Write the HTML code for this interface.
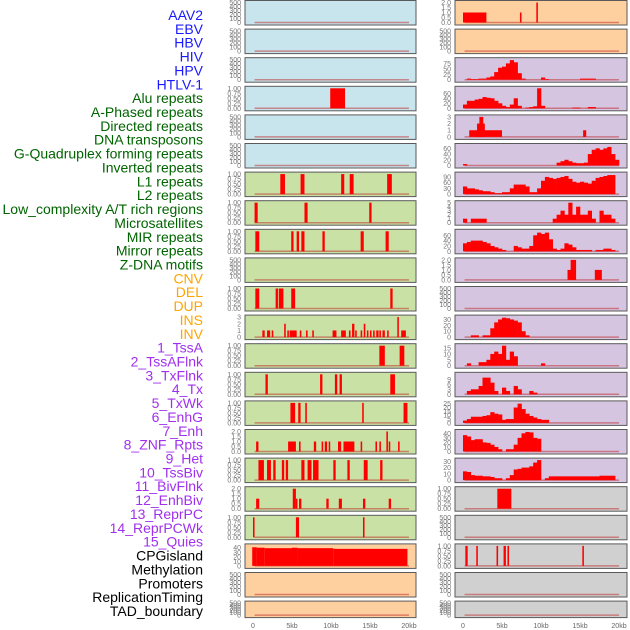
<!DOCTYPE html>
<html><head><meta charset="utf-8"><style>
html,body{margin:0;padding:0;background:#fff;}
svg{display:block;font-family:"Liberation Sans",sans-serif;}
</style></head><body>
<svg id="chart" width="630" height="630" viewBox="0 0 630 630"></svg>
<script>
const labels = ["AAV2","EBV","HBV","HIV","HPV","HTLV-1","Alu repeats","A-Phased repeats","Directed repeats","DNA transposons","G-Quadruplex forming repeats","Inverted repeats","L1 repeats","L2 repeats","Low_complexity A/T rich regions","Microsatellites","MIR repeats","Mirror repeats","Z-DNA motifs","CNV","DEL","DUP","INS","INV","1_TssA","2_TssAFlnk","3_TxFlnk","4_Tx","5_TxWk","6_EnhG","7_Enh","8_ZNF_Rpts","9_Het","10_TssBiv","11_BivFlnk","12_EnhBiv","13_ReprPC","14_ReprPCWk","15_Quies","CPGisland","Methylation","Promoters","ReplicationTiming","TAD_boundary"];
const labelGroups = [6,13,5,15,5];
const groupColors = ["#1a1aff","#006400","#ffa500","#a030ee","#000000"];
const xTicks = [0,5,10,15,20];
const xTickLabels = ["0","5kb","10kb","15kb","20kb"];
const E = ["0","100","200","300","400","500"];
const P = ["0.00","0.25","0.50","0.75","1.00"];
const Q = ["0.0","0.5","1.0","1.5","2.0"];
const leftBg = ["b","b","b","b","b","b","g","g","g","g","g","g","g","g","g","g","g","g","g","o","o","o"];
const leftTicks = [E,E,E,P,E,E,P,P,P,E,P,["0","1","2","3"],P,P,P,Q,P,Q,P,["0","10","20","30","40"],E,E];
const leftMax = [500,500,500,1,500,500,1,1,1,500,1,3,1,1,1,2,1,2,1,44,500,500];
const leftSegs = [
 [],[],[],[[9.9,11.8,1]],[],[],
 [[3.5,4.1,1],[6.1,6.6,1],[11.3,11.7,1],[12.4,12.9,1],[17.2,17.8,1]],
 [[0.2,0.6,1],[6.6,7.0,1],[14.9,15.2,1]],
 [[0.3,0.8,1],[4.9,5.2,1],[5.6,5.9,1],[6.2,6.6,1],[8.9,9.2,1],[13.8,14.2,1],[17.0,17.4,1]],
 [],
 [[0.3,0.8,1],[2.9,3.2,1],[3.3,3.9,1],[4.9,5.4,1],[17.6,17.9,1]],
 [[1.2,1.5,1],[1.8,2.2,1],[2.4,2.6,1],[4.0,4.2,2],[4.4,4.6,1],[4.7,5.6,1],[6.0,6.2,1],[6.8,7.0,1],[7.6,7.8,1],[10.2,10.7,1],[11.3,11.9,1],[12.3,12.5,1],[12.7,13.0,2],[13.1,13.3,1],[13.8,14.0,1],[14.2,14.4,2],[14.6,14.8,1],[15.0,15.2,1],[15.4,15.6,1],[15.8,16.1,1],[16.2,16.4,1],[16.6,16.9,1],[17.2,17.4,1],[18.5,18.7,3],[19.0,19.6,1]],
 [[16.2,16.9,1],[18.8,19.4,1]],
 [[1.6,1.9,1],[8.6,8.9,1],[10.5,10.8,1],[11.1,11.4,1],[17.6,18.2,1]],
 [[4.8,5.4,1],[5.8,6.1,1],[6.7,6.9,1],[14.0,14.2,1],[19.3,19.8,1]],
 [[0.4,0.7,1],[4.5,5.5,1],[5.9,6.1,1],[7.8,8.1,1],[8.8,9.0,1],[9.2,9.5,1],[9.7,9.9,1],[10.9,11.3,1],[11.6,13.0,1],[13.8,14.0,1],[15.7,15.9,1],[16.2,16.4,1],[17.1,17.3,2],[17.4,17.6,1],[18.6,18.8,1]],
 [[0.7,1.4,1],[1.8,2.3,1],[2.6,2.9,1],[3.7,4.0,1],[4.2,4.5,1],[6.2,6.6,1],[7.0,7.5,1],[7.7,8.4,1],[10.3,10.6,1],[12.1,12.4,1],[14.2,14.7,1],[16.3,16.6,1]],
 [[0.4,0.8,1],[5.1,5.5,2],[5.5,5.7,1],[5.9,6.2,1],[9.4,9.7,1],[11.0,11.4,1],[14.1,14.4,1],[17.4,17.7,1]],
 [[0.0,0.2,1],[5.5,5.9,1],[14.1,14.3,1]],
 [[-0.1,0.5,41],[0.5,1.5,40],[1.5,5.0,39],[5.0,5.7,40],[5.7,10.3,39],[10.3,19.8,37.5]],
 [],[]
];
const rightBg = ["o","o","p","p","p","p","p","p","p","p","p","p","p","p","p","p","p","y","y","y","y","y"];
const rightTicks = [Q,E,["0","25","50","75"],["0","20","40","60"],["0","1","2","3"],["0","20","40","60"],["0","30","60","90"],["0","1","2","3","4","5"],["0","20","40","60"],Q,E,["0","10","20","30"],["0","5","10","15"],["0","3","6","9"],["0","5","10","15","20","25"],["0","10","20","30","40"],["0","10","20","30"],P,E,P,E,E];
const rightMax = [2,500,92,80,3,70,105,5,75,2,500,34,17,12,26,44,32,1,500,1,500,500];
const rightSegs = {
 0:[[0,3.0,1],[7.3,7.5,1],[9.4,9.6,2]],
 4:[[0.8,5.0,1],[1.8,2.8,2],[2.1,2.6,3],[15.4,15.8,1]],
 9:[[13.4,14.4,1],[13.8,14.5,2],[16.9,17.8,1]],
 17:[[4.4,6.2,1]],
 19:[[0.3,0.6,1],[1.7,1.9,1],[4.3,4.5,1],[5.2,5.5,1],[5.7,5.9,1],[15.3,15.5,1]]
};
const hivBins = [0,5,3,3,5,5,10,15,35,55,60,75,90,80,30,5,0,0,0,0,10,3,0,0,0,0,0,0,0,0,5,5,5,5,0,0,0,0,0,0];
const aluBins = [15,30,30,35,38,45,42,40,30,20,10,5,15,40,10,0,3,5,8,80,10,0,0,0,0,0,0,0,3,3,0,0,5,5,0,0,0,0,0,0];
const gquadBins = [5,0,0,0,0,0,0,0,0,0,0,0,0,0,0,0,0,0,0,0,0,0,0,0,10,15,20,15,10,8,8,10,40,55,60,55,60,65,40,20];
const l1Bins = [40,30,30,25,20,15,15,10,5,5,10,10,30,50,50,50,40,10,10,30,70,90,85,80,85,90,95,80,65,60,65,60,55,70,85,90,95,100,100,0];
const lowBins = [1,0,1,1,1,1,0,0,0,0,0,0,0,0,0,0,0,0,0,0,0,0,0,1,2,3,2,5,2,4,2,2,3,1,0,3,2,2,1,0];
const mirBins = [30,35,40,40,40,35,30,20,15,10,5,0,0,20,15,10,10,20,60,70,65,70,45,10,5,10,30,25,15,5,5,5,5,0,5,5,10,10,5,0];
const insBins = [0,0,3,3,0,3,3,15,25,30,33,32,30,28,25,10,3,0,0,0,0,0,0,0,0,0,0,0,0,0,0,0,0,0,0,0,0,0,0,0];
const tssaBins = [0,2,0,0,3,3,5,10,12,10,17,5,12,8,0,0,0,0,0,0,2,0,0,0,0,0,0,0,0,0,0,0,0,0,0,0,0,0,0,0];
const tssflBins = [0,2,3,3,5,10,10,7,2,0,4,2,0,5,3,0,0,2,1,0,0,0,0,0,0,0,0,0,0,0,0,0,0,0,0,0,0,0,0,0];
const txflBins = [3,5,8,8,8,9,10,14,12,11,4,5,5,20,25,18,12,9,7,5,4,4,0,0,0,0,0,0,0,0,0,0,0,0,0,0,0,0,0,0];
const txBins = [36,33,25,27,27,20,19,15,10,5,0,5,5,15,30,40,43,42,30,28,0,0,0,0,0,0,0,0,0,0,0,0,0,0,0,0,0,0,0,0];
const txwkBins = [14,13,8,7,7,6,6,5,3,3,0,3,8,17,18,20,20,22,28,32,0,3,6,6,6,6,6,6,6,6,6,6,6,6,6,7,7,7,7,0];
const rightHist = {2:hivBins,3:aluBins,5:gquadBins,6:l1Bins,7:lowBins,8:mirBins,11:insBins,12:tssaBins,13:tssflBins,14:txflBins,15:txBins,16:txwkBins};

const NS="http://www.w3.org/2000/svg";
const svg=document.getElementById('chart');
function mk(tag,attrs,parent){const e=document.createElementNS(NS,tag);for(const k in attrs)e.setAttribute(k,attrs[k]);(parent||svg).appendChild(e);return e;}
const bgColors={b:"#c8e4ec",g:"#c9e1a5",o:"#ffd09f",p:"#d5c5e0",y:"#d0d0d0"};
const PITCH=28.6, PH=24.5;
function rowTop(i){return 0.5+i*PITCH;}
function rowH(i){return i===21?16.5:PH;}
const cols=[{left:245,right:416,x0:253},{left:455,right:627,x0:463}];
const KB=7.8;
function xScale(c,kb){return cols[c].x0+kb*KB;}
function yScale(i,v,max){const t=rowTop(i),h=rowH(i);const y0=t+h-2.5,yt=t+2;return y0-(v/max)*(y0-yt);}

function drawPanel(c,i,bg,ticks,max,segs,hist){
  const g=mk('g',{});
  
  
  const t=rowTop(i),h=rowH(i);
  const r=mk('rect',{x:cols[c].left,y:t,width:cols[c].right-cols[c].left,height:h,fill:bgColors[bg],stroke:"#5a5a5a","stroke-width":1},g);
  
  
  ticks.forEach(function(lab,k){
    const v=(k/(ticks.length-1))*( +ticks[ticks.length-1]);
    const tx=mk('text',{x:cols[c].left-4,y:yScale(i,v,max)+2.5,"font-size":7,fill:"#777","text-anchor":"end"},g);
    tx.textContent=lab;
    
    
  });
  const base=mk('line',{x1:xScale(c,0.2),x2:xScale(c,20),y1:yScale(i,0,max),y2:yScale(i,0,max),stroke:"rgba(190,40,40,0.5)","stroke-width":1.5},g);
  
  
  (segs||[]).forEach(function(s){
    const x1=xScale(c,s[0]),x2=xScale(c,s[1]),y=yScale(i,s[2],max),y0=yScale(i,0,max);
    const b=mk('rect',{x:x1,y:y,width:Math.max(1.5,x2-x1),height:y0-y,fill:"#ff0000"},g);
    
    
  });
  if(hist){
    hist.forEach(function(v,k){
      if(v<=0)return;
      const x1=xScale(c,k*0.5),x2=xScale(c,k*0.5+0.5),y=yScale(i,v,max),y0=yScale(i,0,max);
      const b=mk('rect',{x:x1,y:y,width:x2-x1+0.3,height:y0-y,fill:"#ff0000"},g);
      
      
    });
  }
}
for(let i=0;i<22;i++){
  drawPanel(0,i,leftBg[i],leftTicks[i],leftMax[i],leftSegs[i],null);
  drawPanel(1,i,rightBg[i],rightTicks[i],rightMax[i],rightSegs[i]||[],rightHist[i]||null);
}
for(let c=0;c<2;c++){
  xTicks.forEach(function(v,k){
    const tx=mk('text',{x:xScale(c,v),y:628,"font-size":7,fill:"#666","text-anchor":"middle"});
    tx.textContent=xTickLabels[k];
    
    
  });
}
let gi=0,cnt=0;
labels.forEach(function(l,k){
  while(cnt>=labelGroups[gi]){gi++;cnt=0;}
  cnt++;
  const tx=mk('text',{x:203,y:20+k*13.86,"font-size":14,fill:groupColors[gi],"text-anchor":"end"});
  tx.textContent=l;
  
  
});
</script>
</body></html>
